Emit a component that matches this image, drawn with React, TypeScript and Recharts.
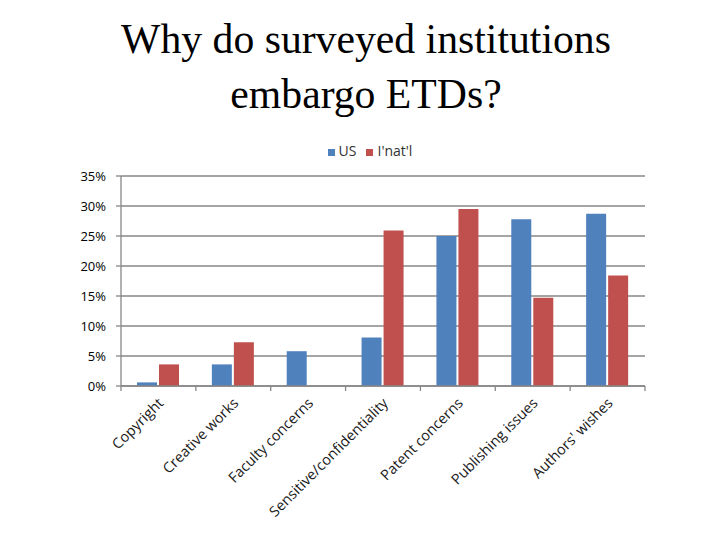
import React from 'react';
import { BarChart, Bar, XAxis, YAxis, CartesianGrid, Legend } from 'recharts';

const CATEGORIES = [
  'Copyright',
  'Creative works',
  'Faculty concerns',
  'Sensitive/confidentiality',
  'Patent concerns',
  'Publishing issues',
  "Authors' wishes",
];
const US_VALUES = [0.6, 3.6, 5.8, 8.1, 25.0, 27.8, 28.7];
const INTL_VALUES = [3.6, 7.3, 0, 25.9, 29.5, 14.7, 18.4];
const Y_TICKS = [0, 5, 10, 15, 20, 25, 30, 35];
const SERIES_ORDER = ['us', 'intl'];

const data = CATEGORIES.map((name, i) => ({ name, us: US_VALUES[i], intl: INTL_VALUES[i] }));

const W = 720;
const H = 540;
const MARGIN = { top: 176, right: 75, bottom: 0, left: 0 };
const Y_AXIS_W = 121;
const BAND = (W - MARGIN.right - MARGIN.left - Y_AXIS_W) / CATEGORIES.length;
const GRID = '#878787';
const LABEL_FONT = "'Open Sans', 'Noto Sans', sans-serif";

const CategoryTick = (props: any) => {
  const { x, y, payload, index } = props;
  const half = BAND / 2;
  const tx = x + 6;
  const ty = y + 18;
  return (
    <g>
      <line x1={x - half} y1={y} x2={x - half} y2={y + 5} stroke={GRID} strokeWidth={1.3} />
      {index === CATEGORIES.length - 1 && (
        <line x1={x + half} y1={y} x2={x + half} y2={y + 5} stroke={GRID} strokeWidth={1.3} />
      )}
      <text
        x={tx}
        y={ty}
        transform={`rotate(-45, ${tx}, ${ty})`}
        textAnchor="end"
        fontFamily={LABEL_FONT}
        fontSize={14.5}
        fill="#1a1a1a"
      >
        {payload.value}
      </text>
    </g>
  );
};

export default function App() {
  return (
    <div style={{ position: 'absolute', left: 0, top: 0, width: W, height: H, background: '#fff' }}>
      <div
        style={{
          position: 'absolute',
          left: 0,
          top: 12,
          width: 732,
          textAlign: 'center',
          fontFamily: "'Liberation Serif', 'Times New Roman', serif",
          fontSize: 41.7,
          lineHeight: '55px',
          color: '#000',
        }}
      >
        Why do surveyed institutions
        <br />
        embargo ETDs?
      </div>
      <div style={{ position: 'absolute', left: 0, top: 0 }}>
        <BarChart width={W} height={H} data={data} margin={MARGIN} barSize={20} barGap={2}>
          <CartesianGrid vertical={false} stroke={GRID} strokeWidth={1.3} />
          <XAxis
            dataKey="name"
            interval={0}
            height={154}
            tickSize={0}
            tickMargin={0}
            tickLine={false}
            axisLine={{ stroke: GRID, strokeWidth: 1.3 }}
            tick={<CategoryTick />}
          />
          <YAxis
            width={Y_AXIS_W}
            domain={[0, 35]}
            ticks={Y_TICKS}
            interval={0}
            tickFormatter={(v: number) => `${v}%`}
            tickSize={5}
            tickMargin={10}
            axisLine={{ stroke: GRID, strokeWidth: 1.3 }}
            tickLine={{ stroke: GRID, strokeWidth: 1.3 }}
            tick={{ fontFamily: LABEL_FONT, fontSize: 13, fill: '#000' }}
          />
          <Legend
            layout="horizontal"
            verticalAlign="middle"
            align="center"
            iconType="square"
            iconSize={7}
            itemSorter={(item: any) => SERIES_ORDER.indexOf(item.dataKey)}
            wrapperStyle={{
              top: 141,
              left: 5,
              width: 740,
              fontFamily: LABEL_FONT,
              fontSize: 14,
            }}
            formatter={(value: string) => <span style={{ color: '#333' }}>{value}</span>}
          />
          <Bar dataKey="us" name="US" fill="#4F81BD" isAnimationActive={false} />
          <Bar dataKey="intl" name="I'nat'l" fill="#C0504D" isAnimationActive={false} />
        </BarChart>
      </div>
    </div>
  );
}
